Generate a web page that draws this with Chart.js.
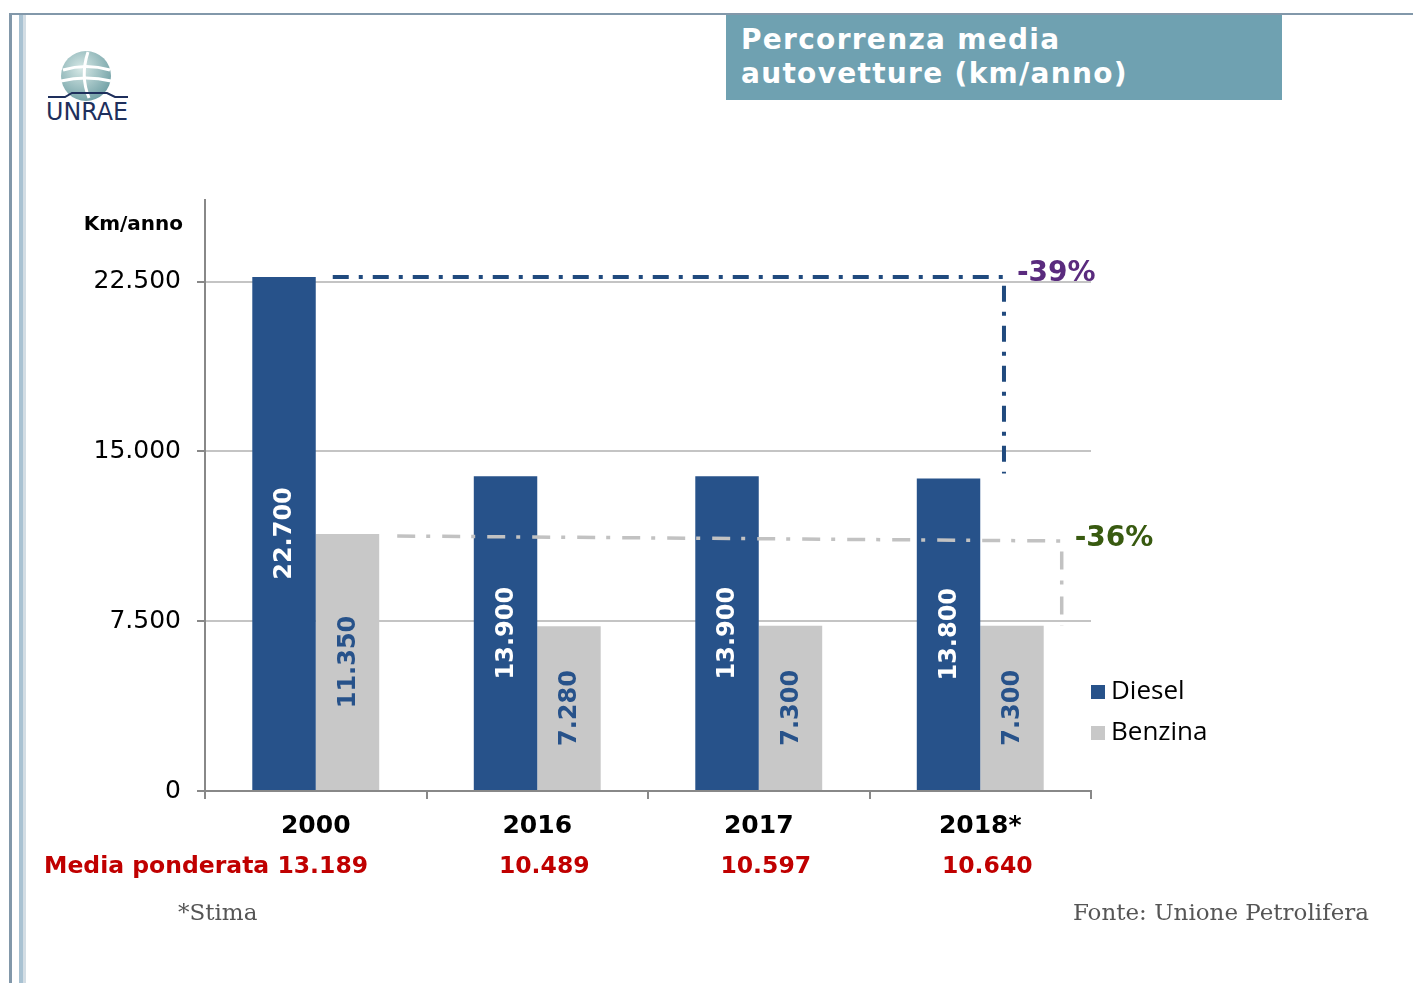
<!DOCTYPE html>
<html>
<head>
<meta charset="utf-8">
<script src="https://cdn.jsdelivr.net/npm/chart.js@4.4.1/dist/chart.umd.min.js"></script>
<style>
  html, body { margin: 0; padding: 0; background: #fff; }
  body { width: 1413px; height: 983px; position: relative; overflow: hidden; font-family: "DejaVu Sans", sans-serif; }
  #chart { position: absolute; left: 0; top: 0; }
  .frameTop { position: absolute; left: 9px; top: 13px; right: 0; height: 2px; background: #8298aa; }
  .frameL1 { position: absolute; left: 9px; top: 13px; bottom: 0; width: 3px; background: #8298aa; }
  .frameL2 { position: absolute; left: 19px; top: 15px; bottom: 0; width: 4px; background: #a9c2d2; }
  .frameL3 { position: absolute; left: 23px; top: 15px; bottom: 0; width: 3px; background: #d3dde4; }
  .title { position: absolute; left: 726px; top: 15px; width: 541px; height: 85px; padding-left: 15px;
    background: #6fa1b1; color: #fff; font-weight: bold; font-size: 28px; line-height: 34px; letter-spacing: 1.3px; }
  .title div:first-child { margin-top: 8px; }
  .logo { position: absolute; left: 44px; top: 48px; }
  .foot { position: absolute; top: 899px; font-family: "DejaVu Serif", serif; font-size: 23px; color: #555; }
</style>
</head>
<body>
<div class="frameTop"></div>
<div class="frameL1"></div>
<div class="frameL2"></div>
<div class="frameL3"></div>
<svg class="logo" width="92" height="78" viewBox="0 0 92 78">
  <defs>
    <radialGradient id="gl" cx="0.4" cy="0.35" r="0.7">
      <stop offset="0" stop-color="#d6e8e6"/>
      <stop offset="1" stop-color="#6f9fa4"/>
    </radialGradient>
  </defs>
  <circle cx="42" cy="28" r="25" fill="url(#gl)"/>
  <path d="M19 22 Q42 15 66 22" stroke="#fff" stroke-width="3" fill="none"/>
  <path d="M17 33 Q42 27 67 33" stroke="#fff" stroke-width="3" fill="none"/>
  <path d="M44 4 Q36 28 45 50" stroke="#fff" stroke-width="3" fill="none"/>
  <path d="M4 49 L21 49 L28 45 L63 45 L71 49 L84 49" stroke="#1e2f5c" stroke-width="2" fill="none"/>
  <text x="2" y="72" font-family="DejaVu Sans" font-size="24" fill="#1e2f5c" textLength="82" lengthAdjust="spacingAndGlyphs">UNRAE</text>
</svg>
<div class="title"><div>Percorrenza media</div><div>autovetture (km/anno)</div></div>
<canvas id="chart" width="1413" height="983"></canvas>
<div class="foot" style="left:178px">*Stima</div>
<div class="foot" style="right:44px">Fonte: Unione Petrolifera</div>
<script>
var years = ['2000', '2016', '2017', '2018*'];
var diesel = [22700, 13900, 13900, 13800];
var benzina = [11350, 7280, 7300, 7300];
var mediaPonderata = [13189, 10489, 10597, 10640];
var yTicks = [0, 7500, 15000, 22500];
var dieselDrop = '-39%';
var benzinaDrop = '-36%';

var blue = '#27528a';
var grey = '#c8c8c8';

function fmt(n) {
  return String(n).replace(/\B(?=(\d{3})+(?!\d))/g, '.');
}

var extras = {
  id: 'extras',
  afterDatasetsDraw: function(chart) {
    var ctx = chart.ctx;
    var y = chart.scales.y, x = chart.scales.x;
    var d = chart.getDatasetMeta(0).data;
    var b = chart.getDatasetMeta(1).data;

    // values inside bars
    ctx.save();
    ctx.font = 'bold 24px "DejaVu Sans"';
    ctx.textAlign = 'center';
    ctx.textBaseline = 'middle';
    [d, b].forEach(function(bars, k) {
      var vals = k === 0 ? diesel : benzina;
      for (var i = 0; i < bars.length; i++) {
        var bar = bars[i];
        ctx.save();
        ctx.translate(bar.x, (bar.y + bar.base) / 2);
        ctx.rotate(-Math.PI / 2);
        ctx.fillStyle = k === 0 ? '#fff' : blue;
        ctx.fillText(fmt(vals[i]), 0, 1);
        ctx.restore();
      }
    });
    ctx.restore();

    // diesel change line
    var dx0 = d[0].x + d[0].width / 2 + 17;
    var dx1 = b[3].x - 8;
    var dy0 = y.getPixelForValue(diesel[0]);
    var dy1 = y.getPixelForValue(diesel[3]) - 5;
    ctx.save();
    ctx.strokeStyle = '#204a7e';
    ctx.lineWidth = 4;
    ctx.setLineDash([16, 10, 4, 10]);
    ctx.beginPath();
    ctx.moveTo(dx0, dy0); ctx.lineTo(dx1, dy0); ctx.lineTo(dx1, dy1);
    ctx.stroke();

    // benzina change line
    var bx0 = b[0].x + b[0].width / 2 + 18;
    var bx1 = b[3].x + b[3].width / 2 + 18;
    var by0 = y.getPixelForValue(benzina[0]) + 2;
    var by1 = by0 + 5;
    var by2 = y.getPixelForValue(benzina[3]);
    ctx.strokeStyle = '#c2c2c2';
    ctx.lineWidth = 3.5;
    ctx.setLineDash([18, 11, 4, 12]);
    ctx.beginPath();
    ctx.moveTo(bx0, by0); ctx.lineTo(bx1, by1); ctx.lineTo(bx1, by2);
    ctx.stroke();
    ctx.restore();

    ctx.save();
    ctx.font = 'bold 28px "DejaVu Sans"';
    ctx.textBaseline = 'middle';
    ctx.textAlign = 'left';
    ctx.fillStyle = '#5a2b7e';
    ctx.fillText(dieselDrop, dx1 + 13, dy0 - 3);
    ctx.fillStyle = '#385a10';
    ctx.fillText(benzinaDrop, bx1 + 13, by1 - 2);
    ctx.restore();

    // axis title
    ctx.save();
    ctx.font = 'bold 20px "DejaVu Sans"';
    ctx.fillStyle = '#000';
    ctx.textAlign = 'right';
    ctx.textBaseline = 'middle';
    ctx.fillText('Km/anno', 183, 225);
    ctx.restore();

    // weighted average row
    ctx.save();
    ctx.font = 'bold 23.5px "DejaVu Sans"';
    ctx.fillStyle = '#c00000';
    ctx.textBaseline = 'middle';
    for (var i = 0; i < mediaPonderata.length; i++) {
      var cx = x.getPixelForValue(i) + 7;
      var txt = fmt(mediaPonderata[i]);
      ctx.textAlign = 'center';
      ctx.fillText(txt, cx, 867);
      if (i === 0) {
        var w = ctx.measureText(txt).width;
        ctx.textAlign = 'right';
        ctx.fillText('Media ponderata ', cx - w / 2, 867);
      }
    }
    ctx.restore();

    // legend
    ctx.save();
    ctx.font = '26px "Open Sans"';
    ctx.textBaseline = 'middle';
    ctx.textAlign = 'left';
    chart.data.datasets.forEach(function(ds, i) {
      var ly = 692 + i * 41;
      ctx.fillStyle = ds.backgroundColor;
      ctx.fillRect(1091, ly - 7, 14, 14);
      ctx.fillStyle = '#000';
      ctx.fillText(ds.label, 1111, ly);
    });
    ctx.restore();
  }
};

new Chart(document.getElementById('chart'), {
  type: 'bar',
  data: {
    labels: years,
    datasets: [
      { label: 'Diesel', data: diesel, backgroundColor: blue, categoryPercentage: 0.573, barPercentage: 1 },
      { label: 'Benzina', data: benzina, backgroundColor: grey, categoryPercentage: 0.573, barPercentage: 1 }
    ]
  },
  options: {
    responsive: false,
    animation: false,
    devicePixelRatio: 1,
    layout: { padding: { top: 200, right: 322, bottom: 132, left: 0 } },
    plugins: { legend: { display: false }, tooltip: { enabled: false } },
    scales: {
      x: {
        afterFit: function(s) { s.height = 60; },
        grid: { offset: true, drawOnChartArea: false, drawTicks: true, tickLength: 8, color: '#888', lineWidth: 2 },
        border: { color: '#888', width: 2 },
        ticks: { color: '#000', font: { family: 'DejaVu Sans', size: 25, weight: 'bold' }, padding: 12 }
      },
      y: {
        min: 0,
        max: 26100,
        afterFit: function(s) { s.width = 205; },
        afterBuildTicks: function(s) { s.ticks = yTicks.map(function(v) { return { value: v }; }); },
        grid: { color: '#c4c4c4', lineWidth: 2, tickLength: 8, tickColor: '#888' },
        border: { color: '#888', width: 2 },
        ticks: { color: '#000', font: { family: 'DejaVu Sans', size: 25 }, padding: 16,
          callback: function(v) { return fmt(v); } }
      }
    }
  },
  plugins: [extras]
});
</script>
</body>
</html>
